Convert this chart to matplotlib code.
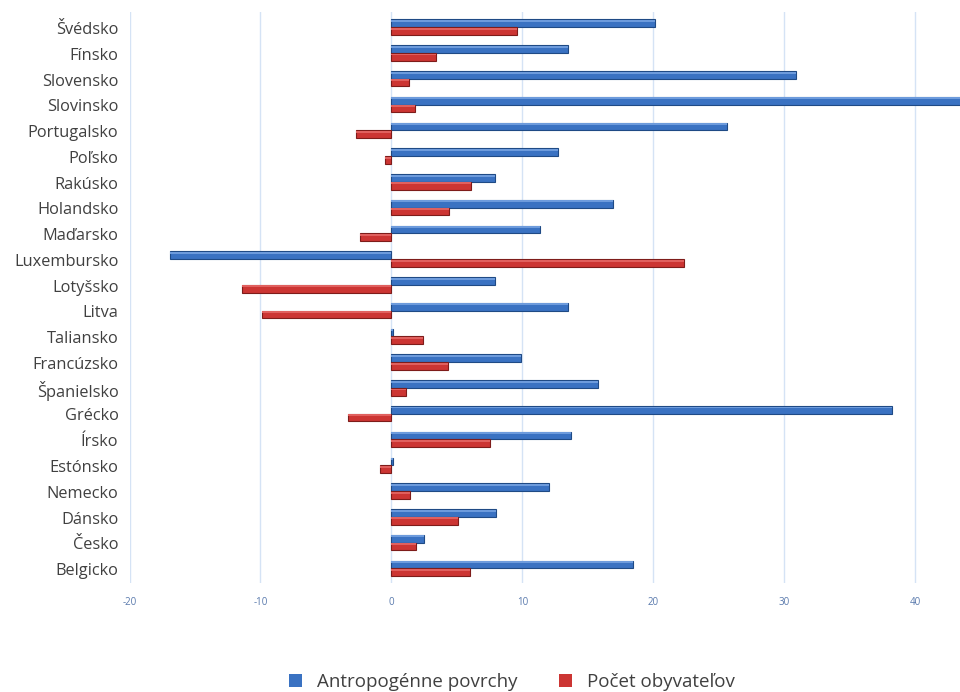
import numpy as np
import matplotlib.pyplot as plt
from matplotlib.patches import Patch

plt.rcParams['font.family'] = ['Open Sans', 'DejaVu Sans']

# countries listed bottom -> top
countries = ["Belgicko", "Česko", "Dánsko", "Nemecko", "Estónsko", "Írsko",
             "Grécko", "Španielsko", "Francúzsko", "Taliansko", "Litva",
             "Lotyšsko", "Luxembursko", "Maďarsko", "Holandsko", "Rakúsko",
             "Poľsko", "Portugalsko", "Slovinsko", "Slovensko", "Fínsko",
             "Švédsko"]
antropogenne = [18.4, 2.5, 8.0, 12.0, 0.1, 13.7, 38.2, 15.8, 9.9, 0.1, 13.5,
                7.9, -16.9, 11.3, 16.9, 7.9, 12.7, 25.6, 45.0, 30.9, 13.5, 20.1]
obyvatelia = [6.0, 1.9, 5.1, 1.4, -0.9, 7.5, -3.3, 1.1, 4.3, 2.4, -9.9,
              -11.4, 22.3, -2.4, 4.4, 6.1, -0.5, -2.7, 1.8, 1.3, 3.4, 9.6]
series_names = ["Antropogénne povrchy", "Počet obyvateľov"]
xticks = [-20, -10, 0, 10, 20, 30, 40]

blue = "#3a72c2"
red = "#cc3533"

fig = plt.figure(figsize=(9.6, 6.92), dpi=100)
ax = fig.add_axes([129.5 / 960, 109 / 692, 1 - 129.5 / 960, 571 / 692])

y = np.arange(len(countries))
h = 0.3
ax.barh(y + h / 2 + 0.03, antropogenne, height=h, color=blue, edgecolor="#1f4a85",
        linewidth=0.8, zorder=3)
ax.barh(y - h / 2 + 0.03, obyvatelia, height=h, color=red, edgecolor="#7e1c1a",
        linewidth=0.8, zorder=3)
# light highlight along the top of each bar for a slight 3D look
ax.barh(y + h * 0.8 + 0.03, antropogenne, height=h * 0.25, color="#6d9bdc",
        linewidth=0, zorder=4)
ax.barh(y - h * 0.2 + 0.03, obyvatelia, height=h * 0.25, color="#e0605e",
        linewidth=0, zorder=4)

ax.set_xlim(-20, 43.4)
ax.set_ylim(-0.54, 21.62)
ax.set_xticks(xticks)
ax.set_xticklabels([str(t) for t in xticks], fontsize=7, color="#5a7aad")
ax.set_yticks(y)
ax.set_yticklabels(countries, fontsize=11.8, color="#404040")
ax.tick_params(axis="both", length=0)
ax.tick_params(axis="x", pad=10)
ax.tick_params(axis="y", pad=8)
for s in ax.spines.values():
    s.set_visible(False)
for t in xticks:
    ax.axvline(t, color="#d5e3f5", linewidth=1, zorder=1)

handles = [Patch(facecolor=blue, edgecolor="none"),
           Patch(facecolor=red, edgecolor="none")]
fig.legend(handles, series_names, loc="center",
           bbox_to_anchor=(512 / 960, 1 - 682 / 692), ncol=2,
           frameon=False, fontsize=13.5, handlelength=0.7, handleheight=0.7,
           columnspacing=2.2, handletextpad=0.8, labelcolor="#404040")

fig.savefig("out.png", dpi=100)
